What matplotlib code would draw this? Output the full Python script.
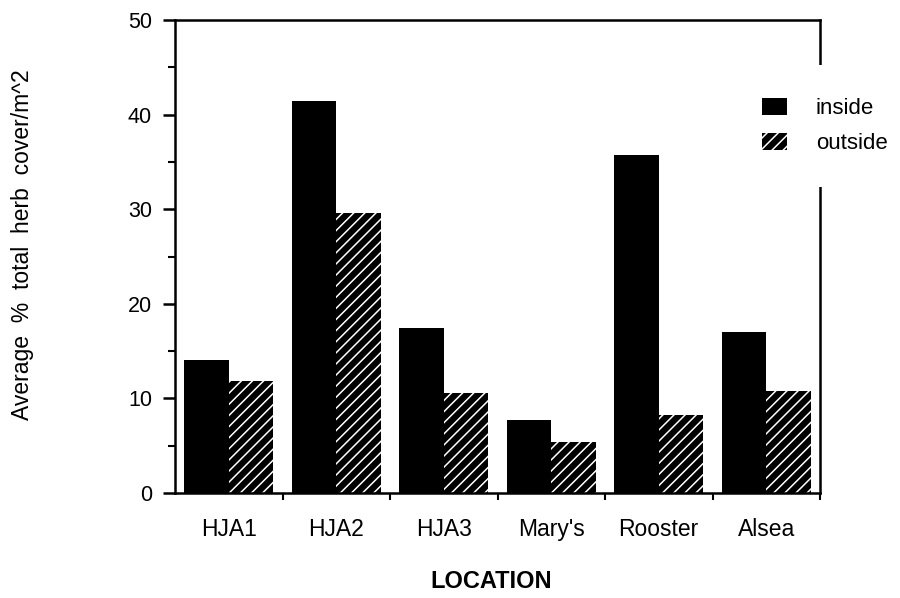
import matplotlib
matplotlib.use("Agg")
import matplotlib.pyplot as plt
import numpy as np

locations = ["HJA1", "HJA2", "HJA3", "Mary's", "Rooster", "Alsea"]
inside = [14.1, 41.4, 17.4, 7.7, 35.7, 17.0]
outside = [11.8, 29.6, 10.6, 5.4, 8.2, 10.8]
yticks = [0, 10, 20, 30, 40, 50]

plt.rcParams['font.family'] = ['Liberation Sans', 'DejaVu Sans']
plt.rcParams['hatch.linewidth'] = 1.1

fig = plt.figure(figsize=(9, 5.98), dpi=100)
ax = fig.add_axes([175/900, 1-493/598, 645/900, 473/598])

x = np.arange(len(locations))
w = 0.414
ax.bar(x - w/2, inside, width=w, color='black', linewidth=0, label='inside')
ax.bar(x + w/2, outside, width=w, color='black', edgecolor='white', hatch='///',
       linewidth=0, label='outside')

ax.set_xlim(-0.5, len(locations) - 0.5)
ax.set_ylim(0, 50)

for s in ax.spines.values():
    s.set_linewidth(1.8)

ax.set_yticks(yticks)
ax.set_yticks(np.arange(5, 50, 10), minor=True)
ax.tick_params(axis='y', which='major', direction='out', length=8.6, width=1.8,
               labelsize=15.5, pad=8)
ax.tick_params(axis='y', which='minor', direction='out', length=5, width=1.5)

# labels at group centers
ax.set_xticks(x)
ax.set_xticklabels(locations)
ax.tick_params(axis='x', which='major', length=0, labelsize=16.5, pad=18)
# group boundary ticks
ax.set_xticks(np.arange(0.5, len(locations), 1.0), minor=True)
ax.tick_params(axis='x', which='minor', direction='out', length=5, width=1.5)

fig.text(491/900, 1-581/598, "LOCATION", ha='center', va='center',
         fontsize=17, fontweight='bold')
fig.text(23/900, 1-245/598, "Average  %  total  herb  cover/m^2", ha='center',
         va='center', rotation=90, fontsize=16.5)

leg = ax.legend(loc='center left', bbox_to_anchor=(729/900, 1-126/598),
                bbox_transform=fig.transFigure, frameon=True, fontsize=16,
                handlelength=1.1, handleheight=0.8, handletextpad=1.3,
                labelspacing=0.6, borderpad=1.5, borderaxespad=0)
leg.get_frame().set_edgecolor('none')
leg.get_frame().set_facecolor('white')
leg.get_frame().set_alpha(1)
leg.get_frame().set_boxstyle('square', pad=0)

fig.savefig("out.png", dpi=100)
